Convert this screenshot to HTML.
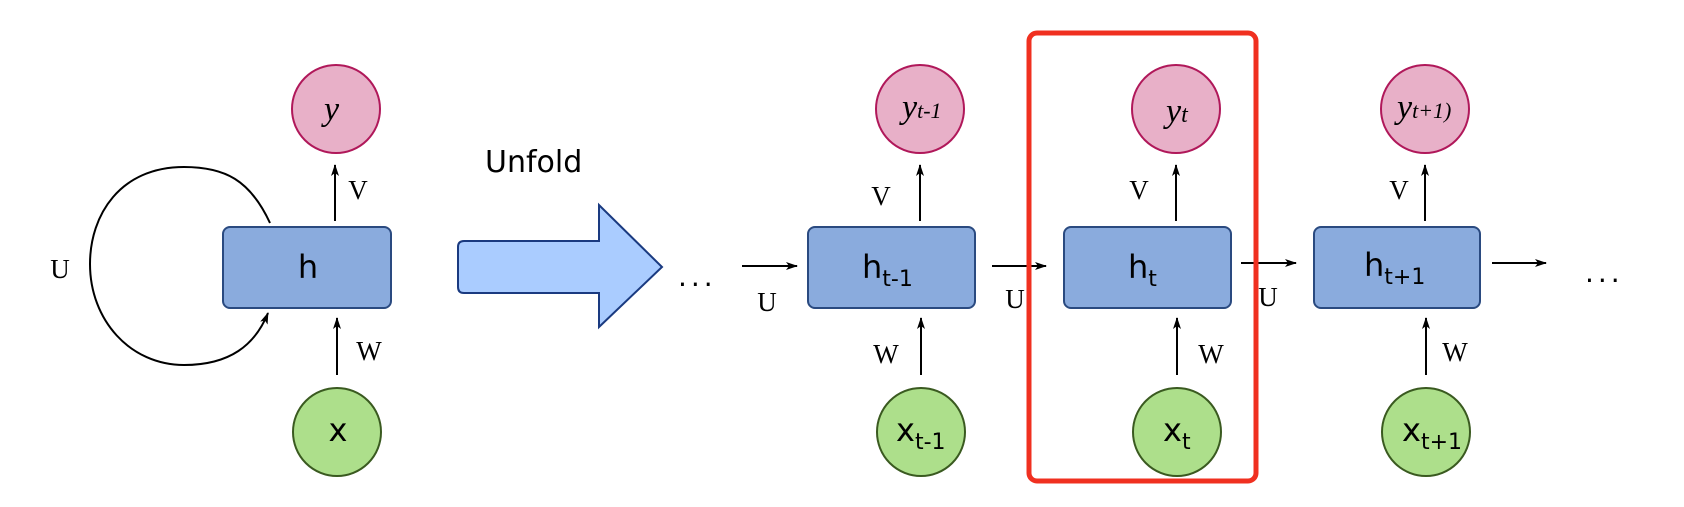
<!DOCTYPE html>
<html><head><meta charset="utf-8"><style>html,body{margin:0;padding:0;background:#fff}</style></head>
<body>
<svg width="1684" height="502" viewBox="0 0 1684 502" xmlns="http://www.w3.org/2000/svg">
<defs>
<marker id="a" markerWidth="12" markerHeight="8" refX="11" refY="4" orient="auto" markerUnits="userSpaceOnUse">
<path d="M0,0 L12,4 L0,8 L3,4 z" fill="#000"/></marker>
</defs>
<style>
.c{font-family:"DejaVu Sans","Liberation Sans",sans-serif}
.s{font-family:"Liberation Serif",serif;font-size:27px}
.hw{font-family:"Liberation Serif",serif;font-style:italic;font-size:34px}
</style>
<g stroke="#000" stroke-width="2" fill="none" marker-end="url(#a)">
<line x1="335" y1="221" x2="335" y2="165"/>
<line x1="337" y1="375" x2="337" y2="318"/>
<path d="M270,223 C250,180 225,167 184,167 C120,167 90,215 90,264 C90,320 130,365 184,365 C230,365 255,345 268,313"/>
<line x1="742" y1="266" x2="797" y2="266"/>
<line x1="920" y1="221" x2="920" y2="165"/>
<line x1="921" y1="375" x2="921" y2="318"/>
<line x1="992" y1="266" x2="1046" y2="266"/>
<line x1="1176" y1="221" x2="1176" y2="165"/>
<line x1="1177" y1="375" x2="1177" y2="318"/>
<line x1="1241" y1="263" x2="1296" y2="263"/>
<line x1="1425" y1="221" x2="1425" y2="165"/>
<line x1="1426" y1="375" x2="1426" y2="318"/>
<line x1="1492" y1="263" x2="1546" y2="263"/>
</g>
<g stroke="#2a4a80" stroke-width="2" fill="#8aabdd">
<rect x="223" y="227" width="168" height="81" rx="7"/>
<rect x="808" y="227" width="167" height="81" rx="7"/>
<rect x="1064" y="227" width="167" height="81" rx="7"/>
<rect x="1314" y="227" width="166" height="81" rx="7"/>
</g>
<g stroke="#b0185a" stroke-width="2" fill="#e8b0c8">
<circle cx="336" cy="109" r="44"/><circle cx="920" cy="109" r="44"/>
<circle cx="1176" cy="109" r="44"/><circle cx="1425" cy="109" r="44"/>
</g>
<g stroke="#3a5a20" stroke-width="2" fill="#addf8b">
<circle cx="337" cy="432" r="44"/><circle cx="921" cy="432" r="44"/>
<circle cx="1177" cy="432" r="44"/><circle cx="1426" cy="432" r="44"/>
</g>
<path d="M464,241 L599,241 L599,205 L662,267 L599,327 L599,293 L464,293 Q458,293 458,287 L458,247 Q458,241 464,241 z" fill="#aaccff" stroke="#1a3a80" stroke-width="2"/>
<rect x="1029" y="33" width="227" height="448" rx="8" fill="none" stroke="#f03020" stroke-width="5"/>
<g class="c" fill="#000" font-size="32">
<text x="308" y="278" text-anchor="middle">h</text>
<text x="338" y="441" text-anchor="middle">x</text>
<text x="862" y="278">h<tspan font-size="22" dy="8">t-1</tspan></text>
<text x="1128" y="278">h<tspan font-size="22" dy="8">t</tspan></text>
<text x="1364" y="276">h<tspan font-size="22" dy="8">t+1</tspan></text>
<text x="896" y="441">x<tspan font-size="22" dy="8">t-1</tspan></text>
<text x="1163" y="441">x<tspan font-size="22" dy="8">t</tspan></text>
<text x="1402" y="441">x<tspan font-size="22" dy="8">t+1</tspan></text>
<text x="485" y="172" font-size="30">Unfold</text>
<text x="678" y="286" font-size="28" letter-spacing="4">...</text>
<text x="1585" y="282" font-size="28" letter-spacing="4">...</text>
</g>
<g class="hw" fill="#000">
<text x="324" y="120">y</text>
<text x="902" y="118">y<tspan font-size="22">t-1</tspan></text>
<text x="1166" y="122">y<tspan font-size="24">t</tspan></text>
<text x="1397" y="118">y<tspan font-size="22">t+1)</tspan></text>
</g>
<g class="s" fill="#000" text-anchor="middle">
<text x="358" y="199">V</text><text x="369" y="360">W</text><text x="60" y="278">U</text>
<text x="767" y="311">U</text><text x="881" y="205">V</text><text x="886" y="363">W</text>
<text x="1015" y="308">U</text><text x="1139" y="199">V</text><text x="1211" y="363">W</text>
<text x="1268" y="306">U</text><text x="1399" y="199">V</text><text x="1455" y="361">W</text>
</g>
</svg>
</body></html>
